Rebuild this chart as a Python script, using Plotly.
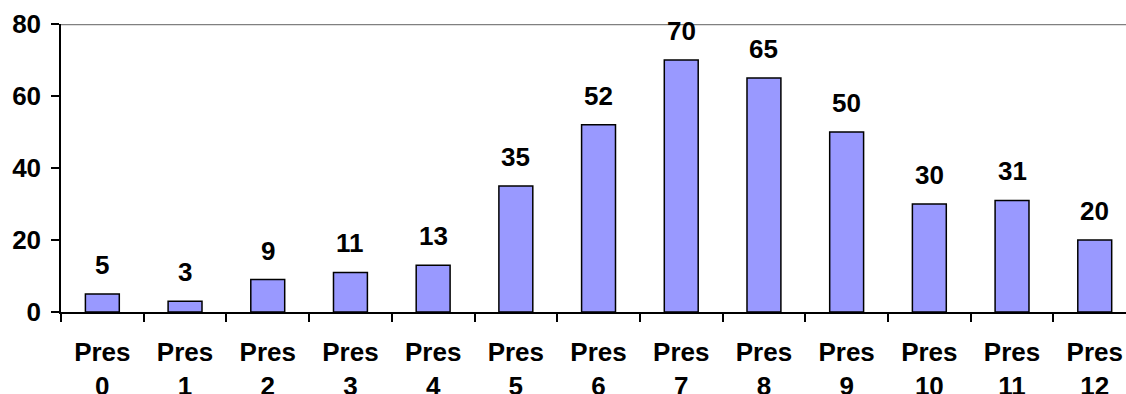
import plotly.graph_objects as go

categories = [f"Pres<br>{i}" for i in range(13)]
values = [5, 3, 9, 11, 13, 35, 52, 70, 65, 50, 30, 31, 20]
y_ticks = [0, 20, 40, 60, 80]

FONT = "Liberation Sans, Arial, sans-serif"

fig = go.Figure()
fig.add_trace(go.Bar(
    x=categories,
    y=values,
    width=0.41,
    marker=dict(color="#9999FF", line=dict(color="black", width=1.5)),
    hoverinfo="skip",
))

# value labels sitting above each bar
for cat, val in zip(categories, values):
    fig.add_annotation(
        x=cat, y=val, text=str(val), showarrow=False,
        yanchor="bottom", yshift=12,
        font=dict(family=FONT, size=26, color="black", weight="bold"),
    )

# grey line along the top of the plot area
fig.add_shape(type="line", xref="paper", yref="y", x0=0, x1=1, y0=80, y1=80,
              line=dict(color="#808080", width=2.5), layer="below")

fig.update_layout(
    width=1126, height=394,
    margin=dict(l=61, r=0, t=24, b=82, autoexpand=False),
    paper_bgcolor="white", plot_bgcolor="white",
    showlegend=False,
    font=dict(family=FONT, size=26, color="black", weight="bold"),
    xaxis=dict(
        type="category",
        range=[-0.5, 12.378],
        automargin=False,
        showline=True, linecolor="black", linewidth=1.5,
        ticks="outside", tickson="boundaries", ticklen=8, tickcolor="black", tickwidth=1.5,
        showgrid=False, zeroline=False,
        ticklabelstandoff=16,
    ),
    yaxis=dict(
        range=[0, 80],
        tickvals=y_ticks,
        automargin=False,
        showline=True, linecolor="black", linewidth=1.5,
        ticks="outside", ticklen=8, tickcolor="black", tickwidth=1.5,
        showgrid=False, zeroline=False,
        ticklabelstandoff=5,
    ),
)

fig.write_html("out.html")
